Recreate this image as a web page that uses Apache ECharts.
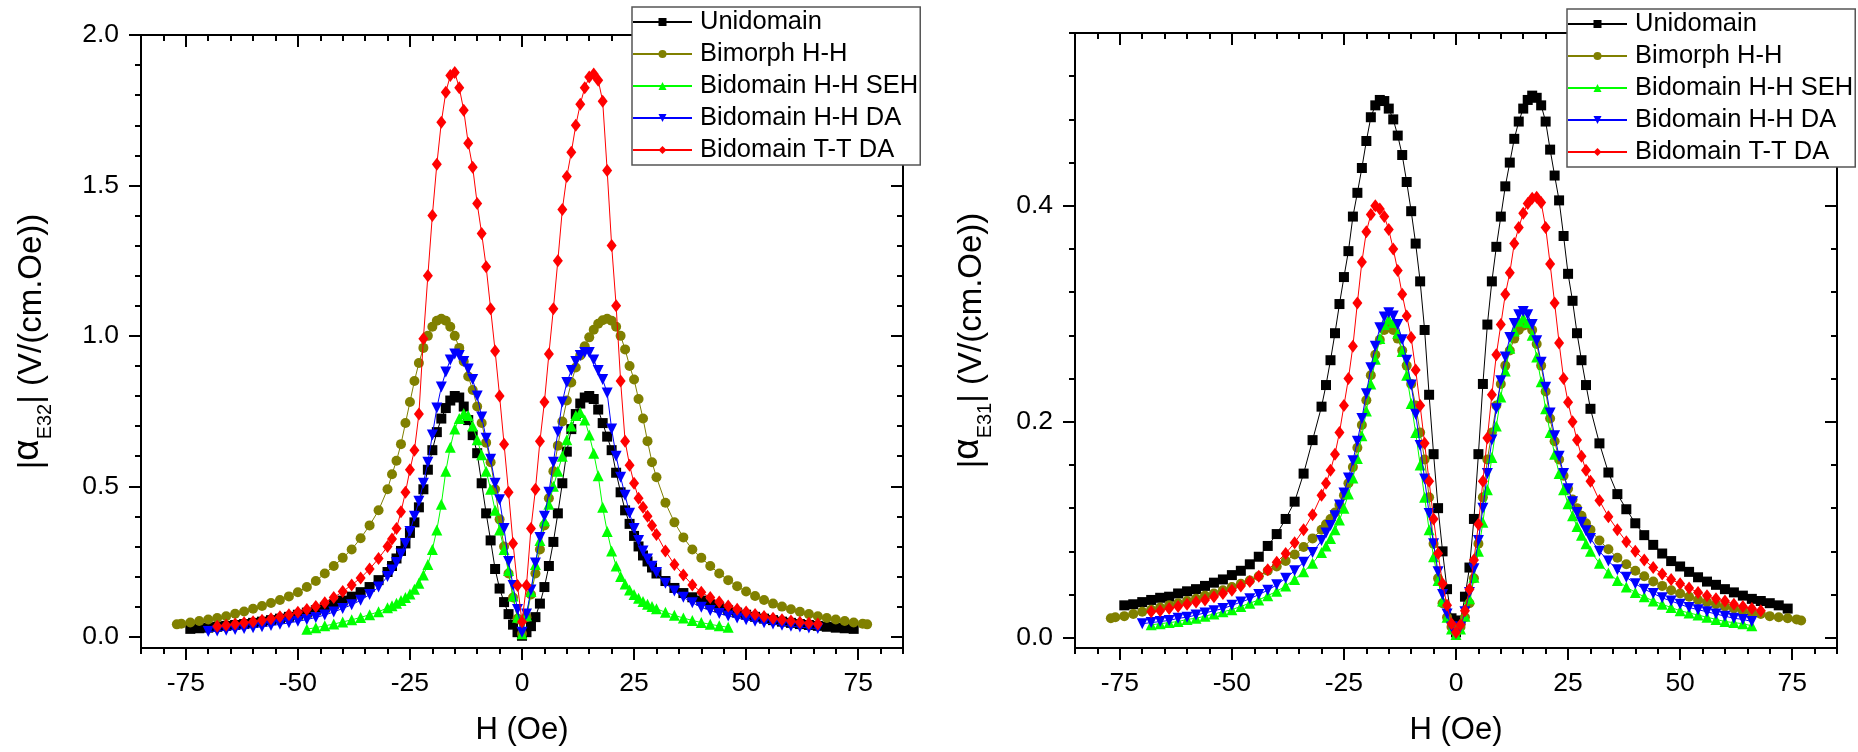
<!DOCTYPE html>
<html><head><meta charset="utf-8">
<script src="https://cdn.jsdelivr.net/npm/echarts@6/dist/echarts.min.js"></script>
<style>html,body{margin:0;padding:0;background:#fff}#c{width:1858px;height:752px}</style>
</head><body><div id="c"></div>
<script>
// ---- shared field grid (Oe) ----
const H = [-77,-76,-74,-72,-70,-68,-66,-64,-62,-60,-58,-56,-54,-52,-50,-48,-46,-44,-42,-40,-38,-36,-34,-32,
-30,-29,-28,-27,-26,-25,-24,-23,-22,-21,-20,-19,-18,-17,-16,-15,-14,-13,-12,-11,-10,-9,-8,-7,-6,-5,-4,-3,-2,-1,
0,
1,2,3,4,5,6,7,8,9,10,11,12,13,14,15,16,17,18,19,20,21,22,23,24,25,26,27,28,29,30,
32,34,36,38,40,42,44,46,48,50,52,54,56,58,60,62,64,66,68,70,72,74,76,77];

const seriesNames = ['Unidomain','Bimorph H-H','Bidomain H-H SEH','Bidomain H-H DA','Bidomain T-T DA'];

// ---- |alpha_E32| (left panel) ----
const E32_uni = [null,null,0.026,0.028,0.030,0.033,0.036,0.039,0.042,0.046,0.050,0.055,0.060,0.066,0.073,0.080,0.088,0.097,0.108,0.120,0.133,0.148,0.165,0.188,
0.215,0.235,0.26,0.285,0.31,0.345,0.38,0.43,0.49,0.555,0.62,0.68,0.725,0.76,0.785,0.80,0.795,0.765,0.72,0.67,0.61,0.51,0.41,0.32,0.225,0.16,0.115,0.075,0.04,0.015,
0.003,
0.015,0.035,0.065,0.11,0.165,0.235,0.315,0.41,0.51,0.615,0.69,0.74,0.775,0.795,0.80,0.79,0.755,0.71,0.665,0.62,0.545,0.48,0.42,0.375,0.335,0.30,0.27,0.25,0.23,0.21,
0.185,0.162,0.145,0.131,0.12,0.108,0.098,0.088,0.08,0.073,0.066,0.06,0.055,0.05,0.046,0.042,0.039,0.036,0.033,0.03,0.028,0.026,null,null];
const E32_bim = [0.041,0.043,0.047,0.052,0.057,0.062,0.068,0.076,0.084,0.093,0.102,0.112,0.122,0.134,0.148,0.165,0.185,0.21,0.235,0.262,0.29,0.327,0.37,0.42,
0.49,0.54,0.585,0.64,0.71,0.78,0.85,0.91,0.96,1.0,1.03,1.05,1.057,1.05,1.03,1.0,0.96,0.915,0.865,0.82,0.765,0.71,0.645,0.58,0.49,0.39,0.30,0.21,0.13,0.06,
0.01,
0.065,0.14,0.21,0.29,0.37,0.46,0.55,0.635,0.715,0.785,0.845,0.895,0.935,0.965,0.995,1.02,1.04,1.052,1.057,1.05,1.03,1.0,0.955,0.90,0.855,0.79,0.725,0.65,0.58,0.53,
0.445,0.38,0.33,0.29,0.262,0.235,0.21,0.188,0.168,0.15,0.135,0.122,0.11,0.1,0.091,0.083,0.075,0.068,0.062,0.057,0.052,0.047,0.043,0.041];
const E32_seh = [null,null,null,null,null,null,null,null,null,null,null,null,null,null,null,0.025,0.03,0.036,0.042,0.049,0.056,0.064,0.073,0.083,
0.096,0.103,0.111,0.12,0.13,0.142,0.158,0.178,0.205,0.24,0.29,0.355,0.44,0.55,0.63,0.69,0.725,0.742,0.735,0.70,0.655,0.605,0.55,0.49,0.42,0.355,0.29,0.22,0.135,0.065,
0.01,
0.07,0.15,0.24,0.32,0.385,0.44,0.50,0.55,0.60,0.655,0.70,0.735,0.745,0.72,0.67,0.61,0.535,0.43,0.35,0.285,0.235,0.2,0.175,0.155,0.14,0.128,0.117,0.108,0.1,0.093,
0.081,0.071,0.062,0.054,0.047,0.041,0.036,0.031,null,null,null,null,null,null,null,null,null,null,null,null,null,null,null,null];
const E32_hhda = [null,null,null,null,0.017,0.019,0.021,0.024,0.027,0.03,0.033,0.037,0.041,0.046,0.051,0.057,0.064,0.072,0.082,0.094,0.106,0.121,0.14,0.165,
0.2,0.222,0.247,0.275,0.31,0.35,0.40,0.45,0.51,0.58,0.67,0.76,0.83,0.88,0.92,0.94,0.935,0.915,0.89,0.855,0.80,0.73,0.66,0.59,0.51,0.455,0.36,0.25,0.17,0.09,
0.015,
0.075,0.155,0.245,0.33,0.40,0.48,0.58,0.68,0.78,0.845,0.885,0.915,0.935,0.945,0.945,0.92,0.885,0.855,0.81,0.69,0.60,0.53,0.47,0.41,0.36,0.32,0.285,0.258,0.234,0.213,
0.178,0.152,0.131,0.113,0.098,0.087,0.077,0.069,0.062,0.056,0.051,0.046,0.042,0.038,0.035,0.032,0.029,0.027,null,null,null,null,null,null];
const E32_ttda = [null,null,null,null,null,0.035,0.038,0.042,0.046,0.05,0.055,0.06,0.066,0.073,0.081,0.09,0.1,0.113,0.13,0.15,0.172,0.195,0.225,0.26,
0.30,0.325,0.36,0.415,0.48,0.555,0.62,0.74,0.99,1.2,1.4,1.57,1.71,1.81,1.865,1.875,1.825,1.75,1.64,1.56,1.44,1.34,1.23,1.09,0.95,0.80,0.64,0.48,0.31,0.17,
0.05,
0.17,0.36,0.49,0.65,0.78,0.94,1.09,1.25,1.42,1.53,1.61,1.70,1.77,1.825,1.86,1.87,1.85,1.78,1.55,1.30,1.10,0.85,0.65,0.57,0.51,0.46,0.43,0.40,0.37,0.34,
0.285,0.24,0.205,0.172,0.148,0.13,0.115,0.102,0.091,0.082,0.074,0.067,0.061,0.056,0.052,0.048,0.045,0.042,null,null,null,null,null,null];

// ---- |alpha_E31| (right panel) ----
const E31_uni = [null,null,0.03,0.031,0.033,0.035,0.037,0.038,0.041,0.043,0.045,0.048,0.051,0.054,0.058,0.062,0.068,0.075,0.085,0.096,0.11,0.126,0.152,0.183,
0.214,0.234,0.257,0.282,0.309,0.334,0.358,0.39,0.412,0.435,0.46,0.482,0.493,0.498,0.497,0.49,0.48,0.465,0.447,0.422,0.395,0.365,0.33,0.285,0.225,0.17,0.12,0.08,0.045,0.018,
0.005,
0.016,0.038,0.065,0.11,0.17,0.235,0.29,0.33,0.362,0.39,0.418,0.44,0.462,0.478,0.49,0.498,0.502,0.50,0.493,0.478,0.452,0.428,0.405,0.372,0.337,0.312,0.282,0.257,0.234,0.212,
0.18,0.153,0.133,0.119,0.106,0.095,0.086,0.078,0.071,0.066,0.061,0.056,0.052,0.049,0.045,0.042,0.039,0.036,0.034,0.032,0.03,0.027,null,null];
const E31_bim = [0.018,0.019,0.02,0.022,0.024,0.026,0.028,0.03,0.032,0.034,0.036,0.039,0.041,0.044,0.047,0.05,0.053,0.057,0.062,0.066,0.071,0.077,0.084,0.092,
0.1,0.105,0.11,0.116,0.123,0.132,0.143,0.158,0.176,0.197,0.22,0.243,0.262,0.276,0.285,0.288,0.285,0.277,0.266,0.252,0.235,0.215,0.19,0.165,0.13,0.087,0.055,0.032,0.019,0.01,
0.005,
0.01,0.019,0.032,0.055,0.087,0.13,0.165,0.19,0.215,0.235,0.252,0.266,0.277,0.285,0.289,0.29,0.285,0.272,0.252,0.228,0.203,0.182,0.165,0.15,0.138,0.128,0.12,0.113,0.106,0.1,
0.09,0.082,0.074,0.068,0.062,0.057,0.052,0.048,0.044,0.041,0.038,0.035,0.033,0.031,0.029,0.027,0.025,0.023,0.022,0.02,0.019,0.018,0.017,0.016];
const E31_seh = [null,null,null,null,null,0.012,0.013,0.014,0.015,0.017,0.018,0.02,0.022,0.024,0.026,0.029,0.032,0.035,0.039,0.043,0.048,0.054,0.061,0.069,
0.079,0.085,0.092,0.1,0.109,0.12,0.133,0.148,0.166,0.187,0.21,0.235,0.258,0.277,0.29,0.295,0.292,0.282,0.265,0.243,0.217,0.19,0.16,0.13,0.1,0.075,0.053,0.034,0.019,0.008,
0.003,
0.008,0.02,0.036,0.056,0.08,0.107,0.137,0.167,0.196,0.223,0.247,0.268,0.284,0.293,0.296,0.292,0.28,0.26,0.237,0.212,0.19,0.17,0.152,0.137,0.124,0.113,0.103,0.095,0.087,0.08,
0.069,0.06,0.053,0.047,0.042,0.038,0.034,0.031,0.028,0.025,0.023,0.021,0.019,0.017,0.015,0.014,0.013,0.011,null,null,null,null,null,null];
const E31_hhda = [null,null,null,null,0.013,0.014,0.015,0.016,0.018,0.019,0.021,0.023,0.025,0.027,0.03,0.033,0.036,0.04,0.044,0.049,0.055,0.062,0.07,0.079,
0.09,0.097,0.104,0.113,0.123,0.134,0.148,0.164,0.182,0.203,0.226,0.25,0.27,0.287,0.297,0.301,0.298,0.29,0.276,0.257,0.234,0.207,0.178,0.147,0.115,0.087,0.061,0.04,0.022,0.01,
0.004,
0.01,0.024,0.042,0.064,0.09,0.12,0.152,0.183,0.212,0.238,0.26,0.278,0.291,0.299,0.302,0.299,0.29,0.275,0.255,0.232,0.208,0.187,0.168,0.152,0.138,0.126,0.116,0.107,0.099,0.092,
0.08,0.071,0.063,0.056,0.05,0.045,0.041,0.037,0.034,0.031,0.028,0.026,0.024,0.022,0.02,0.018,0.017,0.015,null,null,null,null,null,null];
const E31_ttda = [null,null,null,null,null,0.024,0.025,0.027,0.029,0.031,0.033,0.035,0.038,0.041,0.044,0.048,0.052,0.057,0.063,0.07,0.078,0.088,0.1,0.114,
0.132,0.143,0.155,0.17,0.19,0.215,0.24,0.27,0.31,0.348,0.376,0.392,0.40,0.397,0.39,0.378,0.36,0.34,0.318,0.298,0.278,0.248,0.215,0.18,0.145,0.11,0.078,0.05,0.03,0.013,
0.005,
0.012,0.025,0.045,0.072,0.105,0.145,0.185,0.225,0.262,0.29,0.318,0.338,0.365,0.38,0.393,0.402,0.407,0.408,0.403,0.38,0.346,0.31,0.273,0.24,0.218,0.2,0.183,0.168,0.155,0.145,
0.127,0.112,0.1,0.089,0.08,0.072,0.065,0.059,0.054,0.05,0.046,0.042,0.039,0.036,0.034,0.031,0.029,0.027,0.025,null,null,null,null,null];

// ---- ticks ----
const xMajorTicks = [-75,-50,-25,0,25,50,75];
const xMinorTicks = [-85,-80,-75,-70,-65,-60,-55,-50,-45,-40,-35,-30,-25,-20,-15,-10,-5,0,5,10,15,20,25,30,35,40,45,50,55,60,65,70,75,80,85];
const yMajorTicksL = [0,0.5,1.0,1.5,2.0];
const yMinorTicksL = [0,0.1,0.2,0.3,0.4,0.5,0.6,0.7,0.8,0.9,1.0,1.1,1.2,1.3,1.4,1.5,1.6,1.7,1.8,1.9,2.0];
const yMajorTicksR = [0,0.2,0.4];
const yMinorTicksR = [0,0.04,0.08,0.12,0.16,0.2,0.24,0.28,0.32,0.36,0.4,0.44,0.48,0.52,0.56];

const FONT = '"Liberation Sans", Arial, Helvetica, sans-serif';
const styles = [
  {symbol:'rect', size:10, color:'#000000'},
  {symbol:'circle', size:10, color:'#808000'},
  {symbol:'triangle', size:11, color:'#00ff00'},
  {symbol:'triangle', size:11, color:'#0000ff', rotate:180},
  {symbol:'diamond', size:[10,13], color:'#ff0000'}
];

const LINE = {color:'#000', width:2};

function xAxes(gi) {
  const base = {type:'value', gridIndex:gi, min:-85, max:85, splitLine:{show:false},
    axisLine:{show:false, onZero:false, lineStyle:LINE}, axisLabel:{show:false}, axisTick:{show:false}};
  return [
    Object.assign({}, base, {position:'bottom',
      axisLine:{show:true, onZero:false, lineStyle:LINE},
      axisTick:{show:true, inside:false, length:12, lineStyle:LINE, customValues:xMajorTicks},
      axisLabel:{show:true, customValues:xMajorTicks, margin:22, fontSize:26.5, color:'#000', fontFamily:FONT, formatter:v=>String(v)},
      name:'H (Oe)', nameLocation:'middle', nameGap:67,
      nameTextStyle:{fontSize:31, lineHeight:31, color:'#000', fontFamily:FONT}}),
    Object.assign({}, base, {position:'bottom',
      axisTick:{show:true, inside:false, length:6, lineStyle:LINE, customValues:xMinorTicks}}),
    Object.assign({}, base, {position:'top',
      axisLine:{show:true, onZero:false, lineStyle:LINE},
      axisTick:{show:true, inside:true, length:12, lineStyle:LINE, customValues:xMajorTicks}}),
    Object.assign({}, base, {position:'top',
      axisTick:{show:true, inside:true, length:6, lineStyle:LINE, customValues:xMinorTicks}})
  ];
}

function yAxes(gi, min, max, major, minor, sub, gap) {
  const base = {type:'value', gridIndex:gi, min:min, max:max, splitLine:{show:false},
    axisLine:{show:false, onZero:false, lineStyle:LINE}, axisLabel:{show:false}, axisTick:{show:false}};
  return [
    Object.assign({}, base, {position:'left',
      axisLine:{show:true, onZero:false, lineStyle:LINE},
      axisTick:{show:true, inside:false, length:12, lineStyle:LINE, customValues:major},
      axisLabel:{show:true, customValues:major, margin:22, fontSize:26.5, color:'#000', fontFamily:FONT, formatter:v=>v.toFixed(1)},
      name:'{m||}{al|α}{sub|' + sub + '}{m|| (V/(cm.Oe))}', nameLocation:'middle', nameRotate:90, nameGap:gap,
      nameTextStyle:{color:'#000', fontFamily:FONT, rich:{
        m:{fontSize:33, lineHeight:46, verticalAlign:'middle', fontFamily:FONT, color:'#000'},
        al:{fontSize:37, lineHeight:26, verticalAlign:'top', fontFamily:FONT, color:'#000'},
        sub:{fontSize:20, lineHeight:33, verticalAlign:'bottom', fontFamily:FONT, color:'#000'}
      }}}),
    Object.assign({}, base, {position:'left',
      axisTick:{show:true, inside:false, length:6, lineStyle:LINE, customValues:minor}}),
    Object.assign({}, base, {position:'right',
      axisLine:{show:true, onZero:false, lineStyle:LINE},
      axisTick:{show:true, inside:true, length:12, lineStyle:LINE, customValues:major}}),
    Object.assign({}, base, {position:'right',
      axisTick:{show:true, inside:true, length:6, lineStyle:LINE, customValues:minor}})
  ];
}

function mkSeries(k, vals, gi) {
  const s = styles[k];
  const pts = [];
  H.forEach((h, i) => { if (vals[i] != null) pts.push([h, vals[i]]); });
  return {
    type:'line', name:seriesNames[k], xAxisIndex:gi*4, yAxisIndex:gi*4, data:pts,
    symbol:s.symbol, symbolSize:s.size, symbolRotate:s.rotate || 0, showSymbol:true,
    lineStyle:{color:s.color, width:1}, itemStyle:{color:s.color, borderWidth:0},
    emphasis:{disabled:true}, z: 2 + k
  };
}

function mkLegend(left, top) {
  return {left:left, top:top, orient:'vertical', padding:[2,2,2,0], itemWidth:59, itemHeight:10, itemGap:6,
    backgroundColor:'#fff', borderColor:'#555', borderWidth:1.5, selectedMode:false, z:10,
    textStyle:{fontSize:25.5, fontFamily:FONT, color:'#000', lineHeight:26, padding:[0,0,0,3]},
    data:seriesNames};
}

const E32 = [E32_uni, E32_bim, E32_seh, E32_hhda, E32_ttda];
const E31 = [E31_uni, E31_bim, E31_seh, E31_hhda, E31_ttda];

const option = {
  animation:false,
  backgroundColor:'#fff',
  grid:[
    {left:141, top:35, width:762, height:613, containLabel:false, outerBoundsMode:'none'},
    {left:1075, top:33, width:762, height:615, containLabel:false, outerBoundsMode:'none'}
  ],
  xAxis: xAxes(0).concat(xAxes(1)),
  yAxis: yAxes(0, -0.0376, 2.0, yMajorTicksL, yMinorTicksL, 'E32', 86)
          .concat(yAxes(1, -0.0095, 0.56, yMajorTicksR, yMinorTicksR, 'E31', 80)),
  legend:[mkLegend(632, 7), mkLegend(1567, 9)],
  series: E32.map((v,k)=>mkSeries(k, v, 0)).concat(E31.map((v,k)=>mkSeries(k, v, 1)))
};

const chart = echarts.init(document.getElementById('c'), null, {renderer:'canvas'});
chart.setOption(option);
</script>
</body></html>
